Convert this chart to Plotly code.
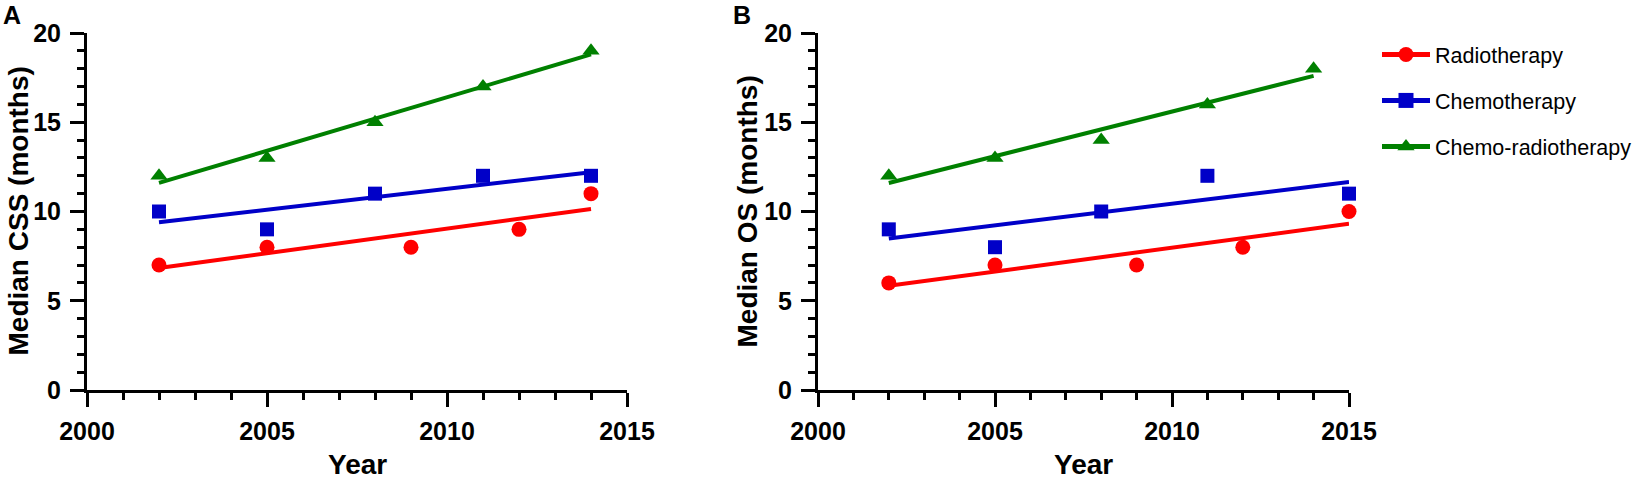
import numpy as np
import plotly.graph_objects as go

# panel A: median cancer-specific survival
css_radio_years = [2002, 2005, 2009, 2012, 2014]
css_radio = [7, 8, 8, 9, 11]
css_chemo_years = [2002, 2005, 2008, 2011, 2014]
css_chemo = [10, 9, 11, 12, 12]
css_cr_years = [2002, 2005, 2008, 2011, 2014]
css_cr = [12, 13, 15, 17, 19]

# panel B: median overall survival
os_radio_years = [2002, 2005, 2009, 2012, 2015]
os_radio = [6, 7, 7, 8, 10]
os_chemo_years = [2002, 2005, 2008, 2011, 2015]
os_chemo = [9, 8, 10, 12, 11]
os_cr_years = [2002, 2005, 2008, 2011, 2014]
os_cr = [12, 13, 14, 16, 18]

groups = ["Radiotherapy", "Chemotherapy", "Chemo-radiotherapy"]
colors = ["#ff0000", "#0000c8", "#008000"]
symbols = ["circle", "square", "triangle-up"]
sizes = [15, 14, 15]

panels = [
    ("x", "y", [(css_radio_years, css_radio), (css_chemo_years, css_chemo), (css_cr_years, css_cr)]),
    ("x2", "y2", [(os_radio_years, os_radio), (os_chemo_years, os_chemo), (os_cr_years, os_cr)]),
]

fig = go.Figure()

for xa, ya, series in panels:
    for i, (yrs, vals) in enumerate(series):
        # simple linear regression line across the observed years
        slope, icept = np.polyfit(yrs, vals, 1)
        xs = np.array([min(yrs), max(yrs)])
        fig.add_trace(go.Scatter(x=xs, y=slope * xs + icept, mode="lines",
                                 line=dict(color=colors[i], width=4),
                                 xaxis=xa, yaxis=ya, showlegend=False,
                                 hoverinfo="skip", cliponaxis=False))
        fig.add_trace(go.Scatter(x=yrs, y=vals, mode="markers",
                                 marker=dict(color=colors[i], symbol=symbols[i], size=sizes[i]),
                                 xaxis=xa, yaxis=ya, showlegend=False, cliponaxis=False))

# legend entries (line + marker)
for i, name in enumerate(groups):
    fig.add_trace(go.Scatter(x=[None], y=[None], mode="lines+markers", name=name,
                             legendgroup=name,
                             line=dict(color=colors[i], width=5),
                             marker=dict(color=colors[i], symbol=symbols[i], size=15),
                             xaxis="x2", yaxis="y2"))

W, H = 1652, 482
ydom = [1 - 390 / H, 1 - 33 / H]

tickfont = dict(family="Liberation Sans, Arial", size=25, color="black", weight="bold")

def xaxis_cfg(dom, anchor):
    return dict(domain=dom, anchor=anchor, range=[2000, 2015], dtick=5, tick0=2000,
                showgrid=False, zeroline=False, showline=True, linecolor="black", linewidth=3,
                ticks="outside", ticklen=14, tickwidth=3, tickcolor="black",
                tickfont=tickfont, ticklabelstandoff=3,
                minor=dict(dtick=1, ticks="outside", ticklen=7, tickwidth=3, tickcolor="black"))

def yaxis_cfg(anchor):
    return dict(domain=ydom, anchor=anchor, range=[0, 20], dtick=5, tick0=0,
                showgrid=False, zeroline=False, showline=True, linecolor="black", linewidth=3,
                ticks="outside", ticklen=14, tickwidth=3, tickcolor="black",
                tickfont=tickfont, ticklabelstandoff=4,
                minor=dict(dtick=1, ticks="outside", ticklen=7, tickwidth=3, tickcolor="black"))

titlefont = dict(family="Liberation Sans, Arial", size=28, color="black", weight="bold")
labelfont = dict(family="Liberation Sans, Arial", size=25, color="black", weight="bold")

ymid = 0.5 * (ydom[0] + ydom[1])
annotations = [
    dict(text="A", x=12 / W, y=1 - 15 / H, font=labelfont),
    dict(text="B", x=742 / W, y=1 - 15 / H, font=labelfont),
    dict(text="Median CSS (months)", textangle=-90, x=18 / W, y=ymid, font=titlefont),
    dict(text="Median OS (months)", textangle=-90, x=747 / W, y=ymid, font=titlefont),
    dict(text="Year", x=(87 + 627) / 2 / W, y=1 - 464 / H, font=titlefont),
    dict(text="Year", x=(818 + 1349) / 2 / W, y=1 - 464 / H, font=titlefont),
]
for a in annotations:
    a.update(xref="paper", yref="paper", showarrow=False, xanchor="center", yanchor="middle")

fig.update_layout(
    width=W, height=H,
    margin=dict(l=0, r=0, t=0, b=0, autoexpand=False),
    plot_bgcolor="white", paper_bgcolor="white",
    xaxis=xaxis_cfg([87 / W, 627 / W], "y"),
    yaxis=yaxis_cfg("x"),
    xaxis2=xaxis_cfg([818 / W, 1349 / W], "y2"),
    yaxis2=yaxis_cfg("x2"),
    annotations=annotations,
    legend=dict(x=1377 / W, y=1 - 34 / H, xanchor="left", yanchor="top",
                font=dict(family="Liberation Sans, Arial", size=21.5, color="black"),
                itemwidth=48, tracegroupgap=15, traceorder="grouped",
                bgcolor="rgba(0,0,0,0)"),
    showlegend=True,
)

# page margin off so the figure sits at the window origin
fig.write_html("out.html", config={"displayModeBar": False},
               post_script="document.body.style.margin='0';")
